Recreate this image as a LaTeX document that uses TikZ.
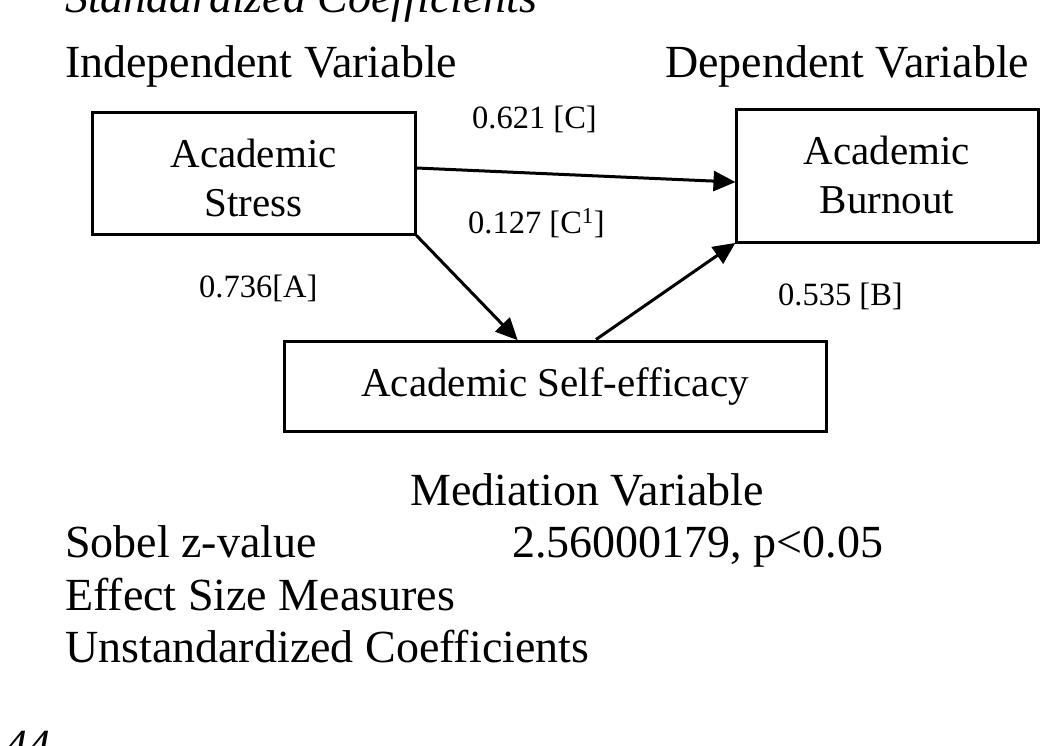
\documentclass[tikz,border=0pt]{standalone}
\usepackage{fontspec}
\setmainfont{Liberation Serif}
\usetikzlibrary{arrows.meta}
\begin{document}
\begin{tikzpicture}[x=1pt,y=-1pt,
  big/.style={font=\fontsize{46}{50}\selectfont, inner sep=0pt, anchor=base west},
  lab/.style={font=\fontsize{32.5}{36}\selectfont, inner sep=0pt, anchor=base west},
  box/.style={draw, line width=3pt, inner sep=0pt},
  boxtxt/.style={font=\fontsize{41}{49}\selectfont, align=center, inner sep=0pt},
  arr/.style={line width=3pt, -{Triangle[length=22pt,width=20pt]}, shorten >=-1pt}
]
\useasboundingbox (0,0) rectangle (1058,745);
\clip (0,0) rectangle (1058,745);

\node[big, font=\fontsize{46}{50}\selectfont\itshape] (std) at (65,12) {Standardized Coefficients};
\node[big] (iv) at (65,77) {Independent Variable};
\node[big] (dv) at (665,77) {Dependent Variable};

\node[box, minimum width=323pt, minimum height=122pt] (s) at (253.5,173) {};
\node[box, minimum width=302pt, minimum height=133pt] (b) at (887,175.5) {};
\node[box, minimum width=542pt, minimum height=90pt] (m) at (555,386) {};
\node[boxtxt] (stxt) at ([yshift=-5pt]s.center) {Academic\\Stress};
\node[boxtxt] (btxt) at ([yshift=1pt]b.center) {Academic\\Burnout};
\node[boxtxt] (mtxt) at (m.center) {Academic Self-efficacy};

\draw[arr] ([yshift=5pt]s.east) -- ([yshift=-6.5pt]b.west);
\draw[arr] (s.south east) -- ([xshift=-38pt]m.north);
\draw[arr] ([xshift=41pt]m.north) -- (b.south west);

\node[lab] (lc) at (472,128) {0.621 [C]};
\node[lab] (lc1) at (468,233) {0.127 [C\textsuperscript{1}]};
\node[lab] (la) at (199,297) {0.736[A]};
\node[lab] (lb) at (778,305) {0.535 [B]};

\node[big] (mv) at (410,505) {Mediation Variable};
\node[big] (sob) at (65,557) {Sobel z-value};
\node[big] (sobv) at (512,557) {2.56000179, p<0.05};
\node[big] (esm) at (65,610) {Effect Size Measures};
\node[big] (uc) at (65,662) {Unstandardized Coefficients};
\node[big, font=\fontsize{46}{50}\selectfont\itshape] (pg) at (4,761) {44};
\end{tikzpicture}
\end{document}
